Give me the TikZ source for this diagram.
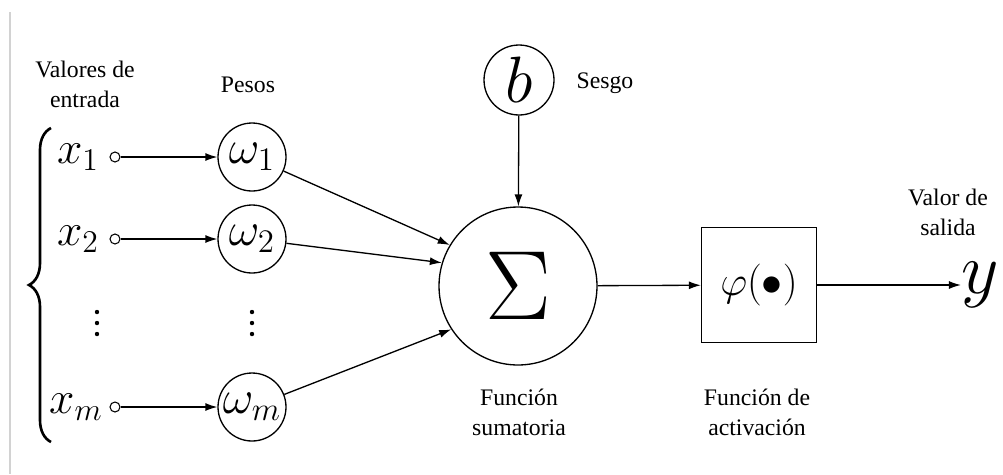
\documentclass[tikz,border=0pt]{standalone}
\usepackage{graphicx}
\usepackage{fontspec}
\setmainfont{Liberation Serif}
\usetikzlibrary{arrows.meta,decorations.pathreplacing}

\newcommand{\grande}[2]{\scalebox{#1}{$#2$}}

\begin{document}
\begin{tikzpicture}[x=0.02cm,y=-0.02cm,
            every node/.style={font=\fontsize{13.5}{17}\selectfont},
            etiqueta/.style={align=center},
            entrada/.style={circle,draw,line width=0.6pt,inner sep=0pt,minimum size=0.2cm},
            peso/.style={circle,draw,line width=0.75pt,inner sep=0pt,minimum size=1.36cm,font=\fontsize{20}{20}\selectfont},
            varx/.style={font=\fontsize{20}{20}\selectfont},
            flecha/.style={-{Latex[length=0.24cm,width=0.16cm]},line width=0.75pt}]
            \useasboundingbox (0,0) rectangle (1003,474);
            \draw [gray!35,line width=0.8pt] (10,12) -- (10,474);
            % textos
            \node [etiqueta] (valores) at (85,84) {Valores de\\entrada};
            \node (pesos) at (248,85) {Pesos};
            \node (sesgo) at (605,83) {Sesgo};
            \node [etiqueta] (sumatoria) at (519,412) {Función\\sumatoria};
            \node [etiqueta] (activacion) at (757,412) {Función de\\activación};
            \node [etiqueta] (salida) at (948,212) {Valor de\\salida};
            % entradas
            \node [varx] (x1) at (78,157) {\grande{1.25}{x_1}};
            \node [varx] (x2) at (78,239) {\grande{1.25}{x_2}};
            \node [varx] (xm) at (76,407) {\grande{1.25}{x_m}};
            \fill (97,312) circle (2.2) (97,323) circle (2.2) (97,334) circle (2.2);
            \node [entrada] (c1) at (115,157) {};
            \node [entrada] (c2) at (115,239) {};
            \node [entrada] (cm) at (115,407) {};
            \draw [line width=1.5pt,decoration={brace,amplitude=0.44cm}] decorate {(51,442) -- (51,128)};
            % pesos
            \node [peso] (w1) at (252,157) {\grande{1.3}{\omega_1}};
            \node [peso] (w2) at (252,239) {\grande{1.3}{\omega_2}};
            \node [peso] (wm) at (252,407) {\grande{1.3}{\omega_m}};
            \fill (252,312) circle (2.2) (252,323) circle (2.2) (252,334) circle (2.2);
            % sesgo y suma
            \node [peso,minimum size=1.4cm] (b) at (519,80) {\grande{1.8}{b}};
            \node [peso,minimum size=3.16cm] (suma) at (518,286) {\grande{2.7}{\Sigma}};
            % activacion
            \node [draw,line width=0.75pt,minimum size=2.3cm,inner sep=0pt,font=\fontsize{20}{20}\selectfont] (phi) at (759,285) {\grande{1.15}{\varphi(\bullet)}};
            \node [font=\fontsize{20}{20}\selectfont,inner sep=0pt] (y) at (980,285) {\grande{2}{y}};
            % conexiones
            \draw [flecha] (c1) -- (w1);
            \draw [flecha] (c2) -- (w2);
            \draw [flecha] (cm) -- (wm);
            \draw [flecha] (w1) -- (suma.149);
            \draw [flecha] (w2) -- (suma.163);
            \draw [flecha] (wm) -- (suma.213);
            \draw [flecha] (b) -- (suma);
            \draw [flecha] (suma) -- (phi);
            \draw [flecha] (phi.east) -- (y.west |- phi.east);
        \end{tikzpicture}
\end{document}
